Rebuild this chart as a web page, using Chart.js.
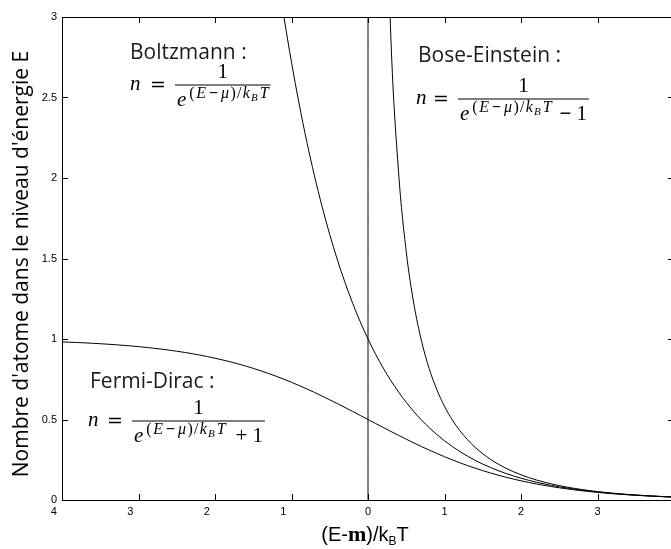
<!DOCTYPE html>
<html>
<head>
<meta charset="utf-8">
<script src="https://cdn.jsdelivr.net/npm/chart.js@4.4.1/dist/chart.umd.min.js"></script>
<style>
  body { margin: 0; overflow: hidden; background: #fff; }
  #wrap { width: 690px; height: 549px; }
</style>
</head>
<body>
<div id="wrap"><canvas id="distrib" width="690" height="549"></canvas></div>
<script>
// (E - mu)/kBT sample points
var xVals = [-4.0, -3.9, -3.8, -3.7, -3.6, -3.5, -3.4, -3.3, -3.2, -3.1,
  -3.0, -2.9, -2.8, -2.7, -2.6, -2.5, -2.4, -2.3, -2.2, -2.1,
  -2.0, -1.9, -1.8, -1.7, -1.6, -1.5, -1.4, -1.3, -1.2, -1.1,
  -1.0, -0.9, -0.8, -0.7, -0.6, -0.5, -0.4, -0.3, -0.2, -0.1,
  0.0, 0.1, 0.2, 0.3, 0.4, 0.5, 0.6, 0.7, 0.8, 0.9,
  1.0, 1.1, 1.2, 1.3, 1.4, 1.5, 1.6, 1.7, 1.8, 1.9,
  2.0, 2.1, 2.2, 2.3, 2.4, 2.5, 2.6, 2.7, 2.8, 2.9,
  3.0, 3.1, 3.2, 3.3, 3.4, 3.5, 3.6, 3.7, 3.8, 3.9, 4.0];

var fermiDirac = [0.98201, 0.98016, 0.97812, 0.97587, 0.97340, 0.97069, 0.96770, 0.96443, 0.96083, 0.95689,
  0.95257, 0.94785, 0.94268, 0.93703, 0.93086, 0.92414, 0.91683, 0.90888, 0.90025, 0.89090,
  0.88080, 0.86989, 0.85815, 0.84553, 0.83202, 0.81757, 0.80218, 0.78584, 0.76852, 0.75026,
  0.73106, 0.71095, 0.68997, 0.66819, 0.64566, 0.62246, 0.59869, 0.57444, 0.54983, 0.52498,
  0.5, 0.47502, 0.45017, 0.42556, 0.40131, 0.37754, 0.35434, 0.33181, 0.31003, 0.28905,
  0.26894, 0.24974, 0.23148, 0.21416, 0.19782, 0.18243, 0.16798, 0.15447, 0.14185, 0.13011,
  0.11920, 0.10910, 0.09975, 0.09112, 0.08317, 0.07586, 0.06914, 0.06297, 0.05732, 0.05215,
  0.04743, 0.04311, 0.03917, 0.03557, 0.03230, 0.02931, 0.02660, 0.02413, 0.02188, 0.01984, 0.01799];

var boltzmann = [null, null, null, null, null, null, null, null, null, null,
  null, null, null, null, null, null, null, null, null, null,
  null, null, null, null, null, null, null, null, 3.32012, 3.00417,
  2.71828, 2.45960, 2.22554, 2.01375, 1.82212, 1.64872, 1.49182, 1.34986, 1.22140, 1.10517,
  1.0, 0.90484, 0.81873, 0.74082, 0.67032, 0.60653, 0.54881, 0.49659, 0.44933, 0.40657,
  0.36788, 0.33287, 0.30119, 0.27253, 0.24660, 0.22313, 0.20190, 0.18268, 0.16530, 0.14957,
  0.13534, 0.12246, 0.11080, 0.10026, 0.09072, 0.08208, 0.07427, 0.06721, 0.06081, 0.05502,
  0.04979, 0.04505, 0.04076, 0.03688, 0.03337, 0.03020, 0.02732, 0.02472, 0.02237, 0.02024, 0.01832];

var boseEinstein = [null, null, null, null, null, null, null, null, null, null,
  null, null, null, null, null, null, null, null, null, null,
  null, null, null, null, null, null, null, null, null, null,
  null, null, null, null, null, null, null, null, null, null,
  null, null, 4.5167, 2.8583, 2.0333, 1.5415, 1.2164, 0.98644, 0.81597, 0.68512,
  0.58198, 0.49896, 0.43101, 0.37463, 0.32731, 0.28722, 0.25297, 0.22352, 0.19803, 0.17587,
  0.15652, 0.13954, 0.12461, 0.11143, 0.09977, 0.08943, 0.08023, 0.07205, 0.06475, 0.05823,
  0.05240, 0.04717, 0.04249, 0.03830, 0.03453, 0.03114, 0.02809, 0.02535, 0.02288, 0.02066, 0.01866];

var zeroLineX = [0, 0];
var zeroLineY = [0, 3];

var xTicks = [-4, -3, -2, -1, 0, 1, 2, 3, 4];
var yTicks = [0, 0.5, 1, 1.5, 2, 2.5, 3];

var yTitle = "Nombre d'atome dans le niveau d'énergie E";
var labels = ['Boltzmann :', 'Bose-Einstein :', 'Fermi-Dirac :'];

function pts(xs, ys) {
  return xs.map(function (x, i) { return { x: x, y: ys[i] }; });
}

var SANS = '"Open Sans", "DejaVu Sans", sans-serif';
var SERIF = '"Liberation Serif", "DejaVu Serif", serif';
var HELV = '"Liberation Sans", Arial, sans-serif';

// n = 1 / (e^((E-mu)/kBT) [tail])
function drawFormula(ctx, nx, barY, barX, tail) {
  ctx.fillStyle = '#000';
  ctx.textAlign = 'left';
  ctx.textBaseline = 'alphabetic';
  ctx.font = 'italic 21px ' + SERIF;
  ctx.fillText('n', nx, barY + 5);
  ctx.font = '19px "DejaVu Serif", serif';
  var ew = ctx.measureText('=').width;
  ctx.fillText('=', barX - 9 - ew, barY + 6);

  var base = barY + 21;
  var x = barX + 2;
  ctx.font = 'italic 21px ' + SERIF;
  ctx.fillText('e', x, base);
  x += ctx.measureText('e').width + 3;

  var sup = base - 8;
  // text, style, size, dy, gap after
  var parts = [
    ['(', '', 16, 0, 1.5], ['E', 'italic ', 16, 0, 3], ['\u2212', 'bold ', 16, 0, 3], ['\u03bc', 'italic ', 16, 0, 1.5],
    [')', '', 16, 0, 1], ['/', '', 16, 0, 1.5], ['k', 'italic ', 16, 0, 1], ['B', 'italic ', 11, 3, 2], ['T', 'italic ', 16, 0, 0]
  ];
  parts.forEach(function (p) {
    ctx.font = p[1] + p[2] + 'px ' + SERIF;
    ctx.fillText(p[0], x, sup + p[3]);
    x += ctx.measureText(p[0]).width + p[4];
  });
  if (tail) {
    x += tail[2];
    ctx.font = (tail[0] === '+' ? '' : 'bold ') + '21px ' + SERIF;
    ctx.fillText(tail[0], x, base);
    x += ctx.measureText(tail[0]).width + tail[3];
    ctx.font = '21px ' + SERIF;
    ctx.fillText(tail[1], x, base);
    x += ctx.measureText(tail[1]).width;
  }
  var barEnd = x + 2;
  ctx.fillRect(barX, barY - 0.5, barEnd - barX, 1);

  ctx.font = '21px ' + SERIF;
  ctx.textAlign = 'center';
  ctx.fillText('1', (barX + barEnd) / 2, barY - 7);
  ctx.textAlign = 'left';
}

var frame = {
  id: 'frame',
  afterDraw: function (chart) {
    var ctx = chart.ctx, a = chart.chartArea;
    var sx = chart.scales.x, sy = chart.scales.y;
    ctx.save();
    ctx.strokeStyle = '#000';
    ctx.lineWidth = 1;
    ctx.strokeRect(a.left + 0.5, a.top + 0.5, a.right - a.left, a.bottom - a.top);
    ctx.beginPath();
    xTicks.forEach(function (v) {
      var p = Math.round(sx.getPixelForValue(v)) + 0.5;
      ctx.moveTo(p, a.bottom); ctx.lineTo(p, a.bottom - 6);
      ctx.moveTo(p, a.top); ctx.lineTo(p, a.top + 6);
    });
    yTicks.forEach(function (v) {
      var p = Math.round(sy.getPixelForValue(v)) + 0.5;
      ctx.moveTo(a.left, p); ctx.lineTo(a.left + 6, p);
      ctx.moveTo(a.right, p); ctx.lineTo(a.right - 6, p);
    });
    ctx.stroke();

    // y title
    ctx.fillStyle = '#000';
    ctx.save();
    ctx.translate(28, 264);
    ctx.rotate(-Math.PI / 2);
    ctx.font = '21px ' + SANS;
    ctx.textAlign = 'center';
    ctx.textBaseline = 'alphabetic';
    ctx.fillText(yTitle, 0, 0);
    ctx.restore();

    // x title  (E-m)/kBT
    var xp = [['(E-', '20px ' + HELV, 0], ['m', 'bold 22px ' + SERIF, 0], [')/k', '20px ' + HELV, 0],
      ['B', '12px ' + HELV, 4], ['T', '20px ' + HELV, 0]];
    var tw = 0;
    xp.forEach(function (p) { ctx.font = p[1]; tw += ctx.measureText(p[0]).width; });
    var tx = 365 - tw / 2;
    ctx.textAlign = 'left';
    xp.forEach(function (p) {
      ctx.font = p[1];
      ctx.fillText(p[0], tx, 541 + p[2]);
      tx += ctx.measureText(p[0]).width;
    });

    // annotations
    ctx.fillStyle = '#1a1a1a';
    ctx.font = '21px ' + SANS;
    ctx.fillText(labels[0], 130, 59);
    ctx.fillText(labels[1], 418, 62);
    ctx.fillText(labels[2], 90, 388);
    drawFormula(ctx, 130, 85, 175, null);
    drawFormula(ctx, 416, 99, 458, ['\u2212', '1', 8, 5]);
    drawFormula(ctx, 88, 421, 132, ['+', '1', 10, 5]);
    ctx.restore();
  }
};

function lineSet(xs, ys) {
  return {
    data: pts(xs, ys),
    borderColor: '#000',
    borderWidth: 1,
    pointRadius: 0,
    fill: false,
    cubicInterpolationMode: 'monotone',
    spanGaps: false
  };
}

new Chart(document.getElementById('distrib').getContext('2d'), {
  type: 'line',
  data: {
    datasets: [
      lineSet(xVals, fermiDirac),
      lineSet(xVals, boltzmann),
      lineSet(xVals, boseEinstein),
      lineSet(zeroLineX, zeroLineY)
    ]
  },
  options: {
    responsive: false,
    animation: false,
    devicePixelRatio: 1,
    layout: { padding: { top: 17, right: 16, left: 0, bottom: 0 } },
    plugins: { legend: { display: false }, tooltip: { enabled: false } },
    scales: {
      x: {
        type: 'linear', min: -4, max: 4,
        afterBuildTicks: function (s) { s.ticks = xTicks.map(function (v) { return { value: v }; }); },
        afterFit: function (s) { s.height = 49; },
        grid: { display: false, drawTicks: false },
        border: { display: false },
        ticks: {
          color: '#000', padding: 5, maxRotation: 0, autoSkip: false,
          font: { family: HELV, size: 11 },
          callback: function (v) { return v < 0 ? String(-v) + '\u2003\u2002' : String(v); }
        }
      },
      y: {
        min: 0, max: 3,
        afterBuildTicks: function (s) { s.ticks = yTicks.map(function (v) { return { value: v }; }); },
        afterFit: function (s) { s.width = 62; },
        grid: { display: false, drawTicks: false },
        border: { display: false },
        ticks: {
          color: '#000', padding: 5,
          font: { family: HELV, size: 11 },
          callback: function (v) { return String(v); }
        }
      }
    }
  },
  plugins: [frame]
});
</script>
</body>
</html>
